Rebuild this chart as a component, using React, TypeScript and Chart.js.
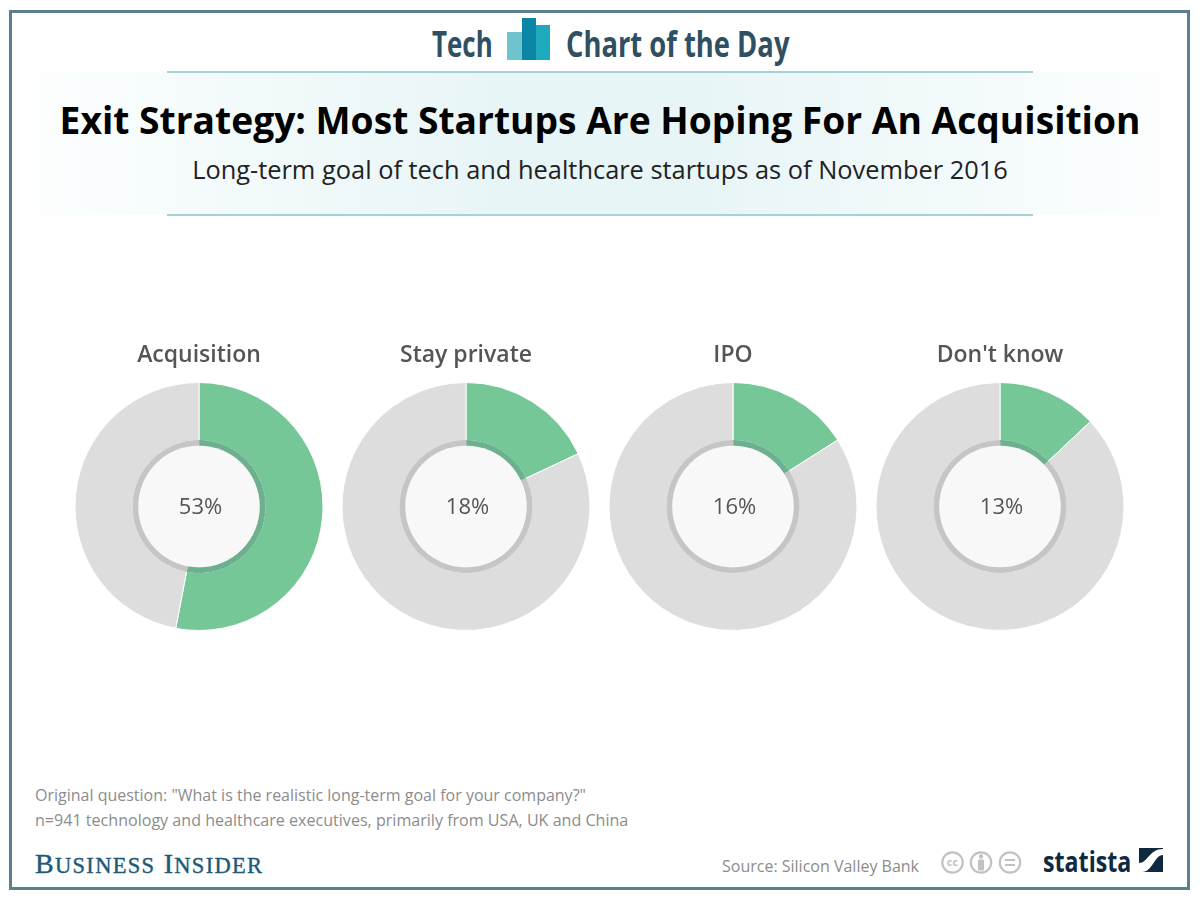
import React, { useEffect, useRef } from "react";
import { Chart, registerables } from "chart.js";

Chart.register(...registerables);

const categories = ["Acquisition", "Stay private", "IPO", "Don't know"];
const shares = [53, 18, 16, 13];
const remainders = [47, 82, 84, 87];
const chartLeft = [66, 333, 600, 867];

const GREEN = "#76c798";
const GREY = "#dedddd";
const GREEN_DARK = "#6cb08f";
const GREY_DARK = "#c5c5c5";

const centerPlugin = {
  id: "centerDisc",
  afterDatasetsDraw(chart: any) {
    const meta = chart.getDatasetMeta(1);
    const arc = meta.data[0];
    const { ctx } = chart;
    ctx.save();
    ctx.beginPath();
    ctx.arc(arc.x, arc.y, arc.innerRadius, 0, Math.PI * 2);
    ctx.fillStyle = "#f8f8f8";
    ctx.fill();
    ctx.fillStyle = "#555555";
    ctx.font = "22px 'Open Sans'";
    ctx.textAlign = "center";
    ctx.textBaseline = "middle";
    ctx.fillText(`${chart.data.datasets[0].data[0]}%`, arc.x + 1.5, arc.y + 1);
    ctx.restore();
  },
};

function Donut({ index }: { index: number }) {
  const ref = useRef<HTMLCanvasElement>(null);
  useEffect(() => {
    const data = [shares[index], remainders[index]];
    const chart = new Chart(ref.current!, {
      type: "doughnut",
      data: {
        labels: [categories[index], "Other"],
        datasets: [
          { data, backgroundColor: [GREEN, GREY], borderColor: "#ffffff", borderWidth: 1, weight: 58 },
          {
            data,
            backgroundColor: [GREEN_DARK, GREY_DARK],
            borderColor: [GREEN_DARK, GREY_DARK],
            borderWidth: 1,
            weight: 5.3,
            order: -1,
          },
        ],
      },
      options: {
        responsive: false,
        animation: false,
        cutout: "49%",
        layout: { padding: 0 },
        plugins: {
          legend: { display: false },
          tooltip: { enabled: false },
          title: {
            display: true,
            text: categories[index],
            color: "#555555",
            font: { family: "'Open Sans'", size: 23, weight: 600 },
            padding: { top: 6, bottom: 12.4 },
          },
        },
      },
      plugins: [centerPlugin],
    } as any);
    return () => chart.destroy();
  }, [index]);
  return (
    <canvas
      ref={ref}
      width={266}
      height={295}
      style={{ position: "absolute", left: chartLeft[index], top: 336, width: 266, height: 295 }}
    />
  );
}

const abs = (o: React.CSSProperties): React.CSSProperties => ({
  position: "absolute",
  whiteSpace: "nowrap",
  fontFamily: "'Open Sans'",
  ...o,
});

export default function App() {
  const small = { fontSize: 22.5 };
  return (
    <div style={{ position: "absolute", left: 0, top: 0, width: 1200, height: 900, background: "#fff", overflow: "hidden" }}>
      <div style={{ position: "absolute", left: 9, top: 10, width: 1175, height: 874, border: "3px solid #5b7f8e" }} />
      <div style={{ position: "absolute", left: 40, top: 72, width: 1120, height: 143, background: "linear-gradient(90deg,#fcfefe 0%,#e8f5f7 40%,#e8f5f7 60%,#fcfefe 100%)" }} />
      <div style={{ position: "absolute", left: 167, top: 71, width: 866, height: 2, background: "#a3d3d6" }} />
      <div style={{ position: "absolute", left: 167, top: 214, width: 866, height: 2, background: "#a3d3d6" }} />

      <div style={abs({ left: 432, top: 21, fontSize: 36, lineHeight: "46px", fontWeight: 700, color: "#2f4f62", transform: "scaleX(0.72)", transformOrigin: "left center" })}>Tech</div>
      <svg style={{ position: "absolute", left: 507, top: 18 }} width={44} height={43}>
        <rect x={0} y={14} width={15} height={28} fill="#6fc3cc" />
        <rect x={15} y={0} width={14} height={42} fill="#0b84a5" />
        <rect x={29} y={7} width={14} height={35} fill="#1ea9bd" />
      </svg>
      <div style={abs({ left: 566, top: 21, fontSize: 36, lineHeight: "46px", fontWeight: 700, color: "#2f4f62", transform: "scaleX(0.76)", transformOrigin: "left center" })}>Chart of the Day</div>

      <div style={abs({ left: 0, width: 1200, top: 95, textAlign: "center", fontSize: 37.2, lineHeight: "50px", fontWeight: 700, color: "#000" })}>
        Exit Strategy: Most Startups Are Hoping For An Acquisition
      </div>
      <div style={abs({ left: 0, width: 1200, top: 152, textAlign: "center", fontSize: 25.4, lineHeight: "34px", color: "#222" })}>
        Long-term goal of tech and healthcare startups as of November 2016
      </div>

      {categories.map((_, i) => (
        <Donut key={i} index={i} />
      ))}

      <div style={abs({ left: 35, top: 783, fontSize: 16, lineHeight: "24px", color: "#8c8c8c" })}>
        Original question: "What is the realistic long-term goal for your company?"
      </div>
      <div style={abs({ left: 35, top: 808, fontSize: 16.08, lineHeight: "24px", color: "#8c8c8c" })}>
        n=941 technology and healthcare executives, primarily from USA, UK and China
      </div>
      <div style={abs({ left: 35, top: 847, fontFamily: "'Liberation Serif'", fontSize: 28, lineHeight: "34px", letterSpacing: 1.3, color: "#1c5a78", WebkitTextStroke: "0.4px #1c5a78" })}>
        B<span style={small}>USINESS</span> I<span style={small}>NSIDER</span>
      </div>
      <div style={abs({ left: 722, top: 854, fontSize: 16, lineHeight: "24px", color: "#8c8c8c" })}>Source: Silicon Valley Bank</div>

      <svg style={{ position: "absolute", left: 941, top: 850 }} width={82} height={25}>
        <g fill="none" stroke="#c2c2c2" strokeWidth={2.2}>
          <circle cx={11.5} cy={12.5} r={10.2} />
          <circle cx={40} cy={12.5} r={10.2} />
          <circle cx={69} cy={12.5} r={10.2} />
        </g>
        <g fill="#c2c2c2">
          <circle cx={40} cy={6.5} r={2.2} />
          <rect x={37} y={9.5} width={6} height={11} rx={1} />
          <rect x={64} y={9} width={10} height={2} />
          <rect x={64} y={14} width={10} height={2} />
        </g>
        <text x={11.5} y={16} textAnchor="middle" fontSize={11} fontWeight={700} fill="#c2c2c2" fontFamily="'Open Sans'">cc</text>
      </svg>

      <div style={abs({ left: 1043, top: 842, fontSize: 29, lineHeight: "38px", fontWeight: 700, color: "#0f2a40", transform: "scaleX(0.8)", transformOrigin: "left center" })}>statista</div>
      <svg style={{ position: "absolute", left: 1139, top: 848 }} width={24} height={24}>
        <rect width={24} height={24} fill="#0f2a40" />
        <path d="M0 15 C9 15 10 1 24 1 L24 7 C15 7 14 24 3 24 L0 24 Z" fill="#fff" />
      </svg>
    </div>
  );
}
